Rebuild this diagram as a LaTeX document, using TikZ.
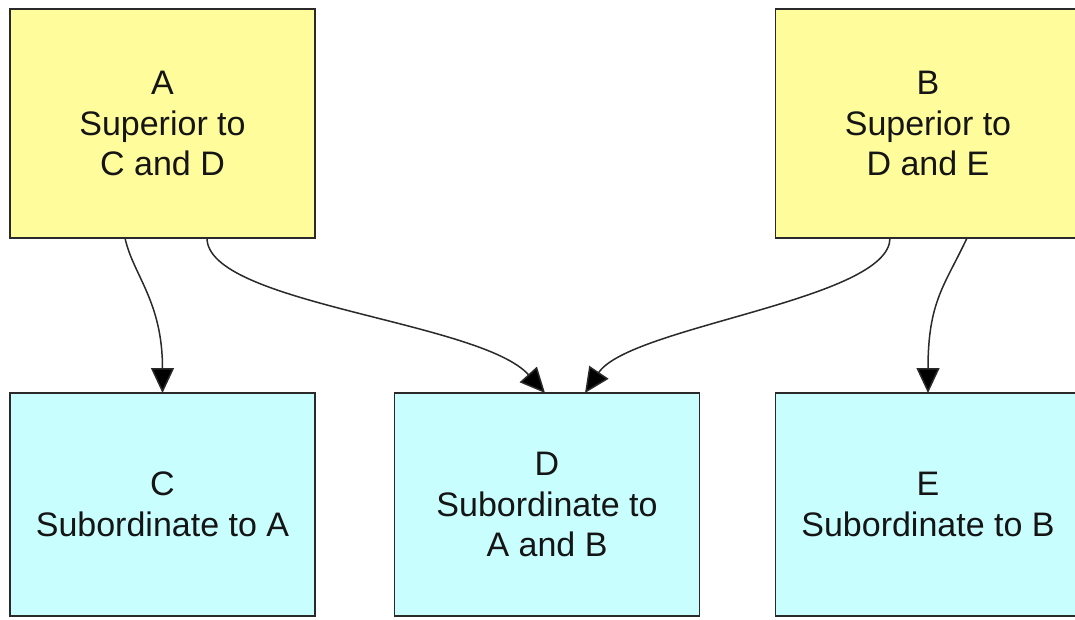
\documentclass[tikz,border=0pt]{standalone}
\usepackage{fontspec}
\setmainfont{Liberation Sans}
\usetikzlibrary{arrows.meta}

\definecolor{supfill}{HTML}{FFFC9C}
\definecolor{subfill}{HTML}{C9FEFE}
\definecolor{edgegray}{HTML}{2A2A2A}
\definecolor{inkgray}{HTML}{151515}

\tikzset{
  box/.style={draw=edgegray, line width=1.5pt, rectangle, align=center,
    text=inkgray, inner sep=0pt, outer sep=0pt,
    font=\fontsize{34}{40.5}\selectfont},
  supbox/.style={box, fill=supfill, minimum width=305pt, minimum height=229pt},
  subbox/.style={box, fill=subfill, minimum width=305pt, minimum height=223pt},
  link/.style={draw=edgegray, line width=1.5pt,
    -{Triangle[length=25pt, width=23pt, fill=black]}}
}

\begin{document}
\begin{tikzpicture}[x=1pt, y=-1pt]
  \clip (0,0) rectangle (1075,619);
  \fill[white] (0,0) rectangle (1075,619);

  % superiors
  \node[supbox] (A) at (162.5,123.5) {A\\Superior to\\C and D};
  \node[supbox] (B) at (928,123.5) {B\\Superior to\\D and E};

  % subordinates
  \node[subbox] (C) at (162.5,504.5) {C\\Subordinate to A};
  \node[subbox] (D) at (547,504.5) {D\\Subordinate to\\A and B};
  \node[subbox] (E) at (928,504.5) {E\\Subordinate to B};

  % reporting lines
  \draw[link] ([xshift=-37.5pt]A.south) .. controls +(8,37) and +(0,-92) .. (C.north);
  \draw[link] ([xshift=44.5pt]A.south) .. controls +(0,66) and +(-65,-72) .. ([xshift=-2pt]D.north);
  \draw[link] ([xshift=-38pt]B.south) .. controls +(0,62) and +(45,-67) .. ([xshift=38pt]D.north);
  \draw[link] ([xshift=39pt]B.south) .. controls +(-22,47) and +(0,-92) .. (E.north);
\end{tikzpicture}
\end{document}
